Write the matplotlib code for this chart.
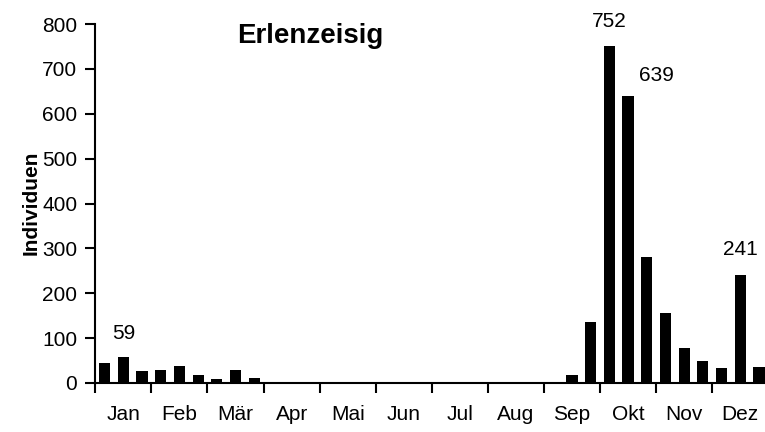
import matplotlib
matplotlib.use("Agg")
import matplotlib.pyplot as plt
import numpy as np

plt.rcParams['font.family'] = ['Liberation Sans', 'DejaVu Sans']

# Monthly thirds (Dekaden) of Erlenzeisig counts
months = ["Jan", "Feb", "Mär", "Apr", "Mai", "Jun",
          "Jul", "Aug", "Sep", "Okt", "Nov", "Dez"]
counts = [45, 59, 27,
          30, 37, 17,
          8, 29, 12,
          3, 2, 1,
          0, 0, 0,
          0, 0, 0,
          0, 1, 0,
          1, 1, 2,
          3, 17, 135,
          752, 639, 280,
          157, 79, 48,
          33, 241, 36]
labelled = {1: (0, 23), 27: (0, 24), 28: (28, 21), 34: (0, 25)}
yticks = [0, 100, 200, 300, 400, 500, 600, 700, 800]

fig = plt.figure(figsize=(7.65, 4.32), dpi=100)
ax = fig.add_axes([95.3 / 765, 49 / 432, 673 / 765, 359 / 432])

x = np.arange(len(counts)) + 0.5
ax.bar(x, counts, width=0.6, color="black", edgecolor="none")

ax.set_xlim(0, len(counts))
ax.set_ylim(0, 800)

for s in ("top", "right"):
    ax.spines[s].set_visible(False)
for s in ("left", "bottom"):
    ax.spines[s].set_linewidth(1.5)

ax.set_yticks(yticks)
ax.tick_params(axis="y", direction="out", length=7, width=1.5,
               labelsize=15, pad=6)

# month boundaries as major ticks, month names centred between them
ax.set_xticks(np.arange(0, len(counts) + 1, 3))
ax.set_xticklabels([])
ax.set_xticks(np.arange(1.5, len(counts), 3), minor=True)
ax.set_xticklabels(months, minor=True)
ax.tick_params(axis="x", which="major", direction="out", length=7, width=1.5)
ax.tick_params(axis="x", which="minor", length=0, labelsize=15, pad=16)

fig.text(31 / 765, 1 - 203 / 432, "Individuen", fontsize=15,
         fontweight="bold", rotation=90, ha="center", va="center")

fig.text(237 / 765, 1 - 36 / 432, "Erlenzeisig", fontsize=20,
         fontweight="bold", ha="left", va="center")

for i, (dx, dy) in labelled.items():
    ax.annotate(str(counts[i]), (x[i], counts[i]), xytext=(dx, dy),
                textcoords="offset pixels", ha="center", va="center",
                fontsize=15)

fig.savefig("out.png", dpi=100)
